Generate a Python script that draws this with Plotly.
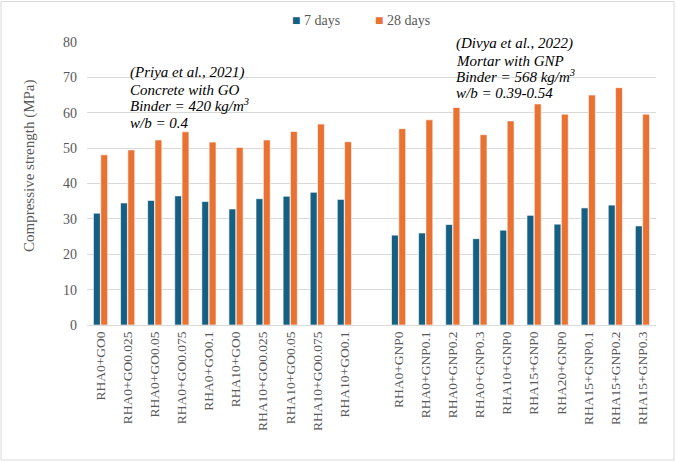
import plotly.graph_objects as go

categories = ["RHA0+GO0", "RHA0+GO0.025", "RHA0+GO0.05", "RHA0+GO0.075", "RHA0+GO0.1",
              "RHA10+GO0", "RHA10+GO0.025", "RHA10+GO0.05", "RHA10+GO0.075", "RHA10+GO0.1",
              " ",
              "RHA0+GNP0", "RHA0+GNP0.1", "RHA0+GNP0.2", "RHA0+GNP0.3", "RHA10+GNP0",
              "RHA15+GNP0", "RHA20+GNP0", "RHA15+GNP0.1", "RHA15+GNP0.2", "RHA15+GNP0.3"]
days7 = [31.6, 34.5, 35.2, 36.5, 34.9, 32.8, 35.7, 36.4, 37.5, 35.5,
         None,
         25.4, 26.0, 28.4, 24.4, 26.8, 31.0, 28.5, 33.1, 33.9, 28.0]
days28 = [48.1, 49.5, 52.3, 54.6, 51.7, 50.2, 52.3, 54.7, 56.8, 51.8,
          None,
          55.5, 58.0, 61.5, 53.8, 57.7, 62.5, 59.6, 65.0, 67.1, 59.6]

BLUE, ORANGE = "#156082", "#E97132"

W, H = 677, 462
L, R, T, B = 87, 21, 42, 137
pw, ph = W - L - R, H - T - B

def px2x(px):
    return (px - L) / pw

def px2y(py):
    return (H - B - py) / ph

serif = "Liberation Serif"

fig = go.Figure()
fig.add_trace(go.Bar(name="7 days", x=categories, y=days7,
                     marker=dict(color=BLUE, line=dict(color="white", width=0.6))))
fig.add_trace(go.Bar(name="28 days", x=categories, y=days28,
                     marker=dict(color=ORANGE, line=dict(color="white", width=0.6))))

fig.update_layout(
    width=W, height=H,
    margin=dict(l=L, r=R, t=T, b=B),
    paper_bgcolor="white", plot_bgcolor="white",
    barmode="group", bargap=0.46, bargroupgap=0.06,
    font=dict(family=serif, color="#595959", size=12),
    showlegend=False,
    xaxis=dict(type="category", categoryorder="array", categoryarray=categories,
               tickangle=-90, tickfont=dict(family=serif, size=13.5, color="#595959"),
               showgrid=False, showline=True, linecolor="#d9d9d9", linewidth=1,
               ticks="", ticklen=0, automargin=False),
    yaxis=dict(range=[0, 80], dtick=10, showgrid=True, gridcolor="#d9d9d9", gridwidth=1,
               zeroline=False, showline=False, ticks="",
               tickfont=dict(family=serif, size=14, color="#595959"),
               ticklabelstandoff=9, automargin=False),
)

# y-axis title
fig.add_annotation(text="Compressive strength (MPa)", xref="paper", yref="paper",
                   x=px2x(29), y=px2y(166), xanchor="center", yanchor="middle",
                   textangle=-90, showarrow=False,
                   font=dict(family=serif, size=15, color="#595959"))

# legend (drawn as text)
legend_items = [("7 days", BLUE, 290), ("28 days", ORANGE, 373)]
for name, col, lx in legend_items:
    fig.add_annotation(text=f"<span style='color:{col}'>■</span> {name}",
                       xref="paper", yref="paper", x=px2x(lx), y=px2y(21),
                       xanchor="left", yanchor="middle", showarrow=False,
                       font=dict(family=serif, size=14, color="#595959"))

priya = ["(Priya et al., 2021)", "Concrete with GO", "Binder = 420 kg/m<sup>3</sup>", "w/b = 0.4"]
priya_y = [72, 89.5, 105, 123]
divya = ["(Divya et al., 2022)", "Mortar with GNP", "Binder = 568 kg/m<sup>3</sup>", "w/b = 0.39-0.54"]
divya_y = [43, 60.5, 76, 93.5]

for txt, yy in zip(priya, priya_y):
    fig.add_annotation(text=txt, xref="paper", yref="paper",
                       x=px2x(128), y=px2y(yy), xanchor="left", yanchor="middle",
                       showarrow=False,
                       font=dict(size=15, color="black", family=serif, style="italic"))
for txt, yy in zip(divya, divya_y):
    fig.add_annotation(text=txt, xref="paper", yref="paper",
                       x=px2x(454), y=px2y(yy), xanchor="left", yanchor="middle",
                       showarrow=False,
                       font=dict(size=15, color="black", family=serif, style="italic"))

fig.add_shape(type="rect", xref="paper", yref="paper",
              x0=px2x(1), x1=px2x(674), y0=px2y(460), y1=px2y(1.5),
              line=dict(color="#d9d9d9", width=1), fillcolor="rgba(0,0,0,0)", layer="below")

fig.write_html("out.html")
